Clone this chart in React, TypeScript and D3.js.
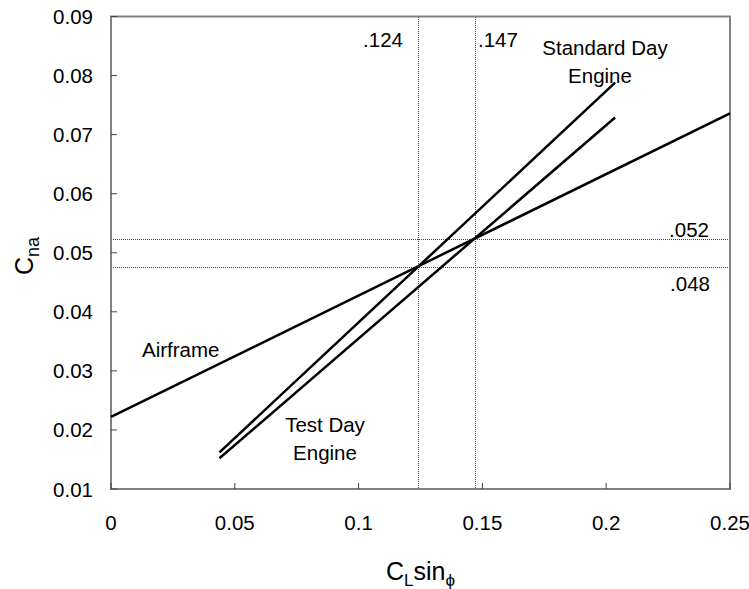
import React from "react";
import * as d3 from "d3";

const xTicks = [0, 0.05, 0.1, 0.15, 0.2, 0.25];
const xTickLabels = ["0", "0.05", "0.1", "0.15", "0.2", "0.25"];
const yTicks = [0.01, 0.02, 0.03, 0.04, 0.05, 0.06, 0.07, 0.08, 0.09];
const yTickLabels = ["0.01", "0.02", "0.03", "0.04", "0.05", "0.06", "0.07", "0.08", "0.09"];

const airframeX = [0, 0.25];
const airframeY = [0.0222, 0.0736];
const testDayX = [0.0438, 0.2036];
const testDayY = [0.0152, 0.0729];
const standardDayX = [0.0438, 0.2036];
const standardDayY = [0.0162, 0.0788];

const refXValues = [0.124, 0.147];
const refXLabels = [".124", ".147"];
const refYValues = [0.0476, 0.0524];
const refYLabels = [".048", ".052"];

const W = 749;
const H = 589;
const M = { left: 111, right: 730, top: 16.5, bottom: 489 };
const FONT = "'Liberation Sans', Arial, Helvetica, sans-serif";

export default function App() {
  const x = d3.scaleLinear().domain([0, 0.25]).range([M.left, M.right]);
  const y = d3.scaleLinear().domain([0.01, 0.09]).range([M.bottom, M.top]);
  const line = d3
    .line<[number, number]>()
    .x((d) => x(d[0]))
    .y((d) => y(d[1]));
  const pts = (xs: number[], ys: number[]) => xs.map((v, i) => [v, ys[i]] as [number, number]);

  const series = [
    pts(airframeX, airframeY),
    pts(testDayX, testDayY),
    pts(standardDayX, standardDayY),
  ];

  return (
    <svg
      width={W}
      height={H}
      style={{ position: "absolute", left: 0, top: 0, background: "#fff" }}
      fontFamily={FONT}
    >
      {/* reference dotted lines */}
      {refXValues.map((v, i) => (
        <line key={"rx" + i} x1={Math.round(x(v)) + 0.5} x2={Math.round(x(v)) + 0.5} y1={M.top} y2={M.bottom} stroke="#444" strokeWidth={1} strokeDasharray="1,1" shapeRendering="crispEdges" />
      ))}
      {refYValues.map((v, i) => (
        <line key={"ry" + i} x1={M.left} x2={M.right} y1={Math.round(y(v)) + 0.5} y2={Math.round(y(v)) + 0.5} stroke="#444" strokeWidth={1} strokeDasharray="1,1" shapeRendering="crispEdges" />
      ))}

      {/* frame */}
      <rect x={M.left} y={M.top} width={M.right - M.left} height={M.bottom - M.top} fill="none" stroke="#808080" strokeWidth={2} />

      {/* ticks */}
      {xTicks.map((t, i) => (
        <g key={"xt" + i}>
          <line x1={x(t)} x2={x(t)} y1={M.bottom} y2={M.bottom - 6} stroke="#444" strokeWidth={1} />
          <text x={x(t)} y={530} textAnchor="middle" fontSize={20.5} fill="#000">
            {xTickLabels[i]}
          </text>
        </g>
      ))}
      {yTicks.map((t, i) => (
        <g key={"yt" + i}>
          <line x1={M.left} x2={M.left + 6} y1={y(t)} y2={y(t)} stroke="#444" strokeWidth={1} />
          <text x={93} y={y(t) + 7.5} textAnchor="end" fontSize={20.5} fill="#000">
            {yTickLabels[i]}
          </text>
        </g>
      ))}

      {/* data lines */}
      {series.map((s, i) => (
        <path key={"s" + i} d={line(s) || ""} fill="none" stroke="#000" strokeWidth={2.5} />
      ))}

      {/* reference labels */}
      <text x={x(refXValues[0]) - 15} y={47} textAnchor="end" fontSize={20.5}>{refXLabels[0]}</text>
      <text x={x(refXValues[1]) + 3} y={47} textAnchor="start" fontSize={20.5}>{refXLabels[1]}</text>
      <text x={M.right - 21} y={y(refYValues[1]) - 2} textAnchor="end" fontSize={20.5}>{refYLabels[1]}</text>
      <text x={M.right - 20} y={y(refYValues[0]) + 24} textAnchor="end" fontSize={20.5}>{refYLabels[0]}</text>

      {/* series labels */}
      <text x={142} y={357} fontSize={20.5}>Airframe</text>
      <text x={325} y={432} textAnchor="middle" fontSize={20.5}>Test Day</text>
      <text x={325} y={459.5} textAnchor="middle" fontSize={20.5}>Engine</text>
      <text x={605} y={55} textAnchor="middle" fontSize={20.5}>Standard Day</text>
      <text x={600} y={82.5} textAnchor="middle" fontSize={20.5}>Engine</text>

      {/* axis titles */}
      <text x={(M.left + M.right) / 2} y={580} textAnchor="middle" fontSize={25}>
        C<tspan fontSize={17} dy={6}>L</tspan>
        <tspan dy={-6}>sin</tspan>
        <tspan fontSize={17} dy={6}>ϕ</tspan>
      </text>
      <text transform={`translate(33, 256) rotate(-90)`} textAnchor="middle" fontSize={25}>
        C<tspan fontSize={18} dy={6}>na</tspan>
      </text>
    </svg>
  );
}
